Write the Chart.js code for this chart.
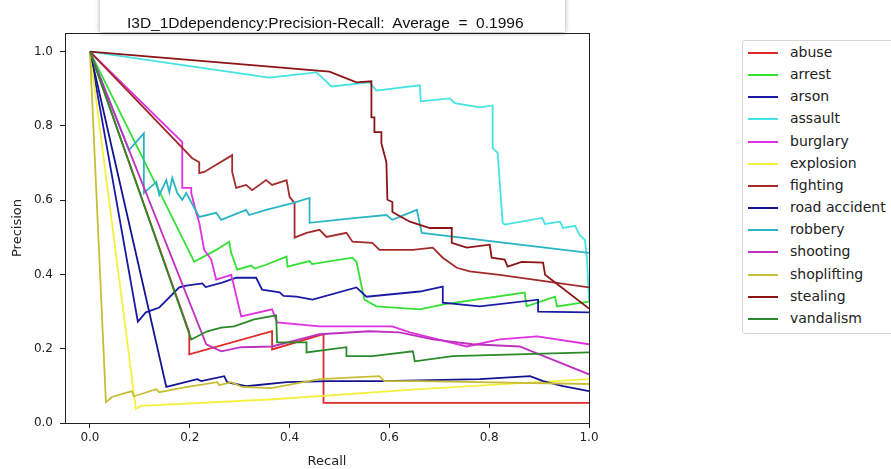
<!DOCTYPE html>
<html>
<head>
<meta charset="utf-8">
<script src="https://cdn.jsdelivr.net/npm/chart.js@4.4.0/dist/chart.umd.min.js"></script>
<style>
  body { margin: 0; background: #fff; }
  #wrap { position: relative; width: 891px; height: 469px; overflow: hidden; }
  #title { position: absolute; left: 100px; top: -8px; width: 465px; height: 40px; background: #fff;
           box-shadow: 0 1px 5px rgba(0,0,0,0.35); font: 15.5px "Liberation Sans", sans-serif; color: #111; white-space: pre; }
  #title span { position: absolute; left: 27px; top: 22px; }
  #legend { position: absolute; left: 742px; top: 40px; width: 170px; height: 292px; border: 1px solid #d6d6d6;
            border-radius: 3px; background: #fff; font: 14px "DejaVu Sans", sans-serif; color: #222; }
  .row { position: absolute; left: 0; height: 17px; }
  .row i { position: absolute; left: 5px; top: 8px; width: 30px; height: 2px; }
  .row span { position: absolute; left: 47px; top: 0; white-space: nowrap; }
</style>
</head>
<body>
<div id="wrap">
  <canvas id="chart" width="891" height="469"></canvas>
  <div id="title"><span>I3D_1Ddependency:Precision-Recall:  Average  =  0.1996</span></div>
  <div id="legend"></div>
</div>
<script>
const categories = ['abuse', 'arrest', 'arson', 'assault', 'burglary', 'explosion', 'fighting',
                    'road accident', 'robbery', 'shooting', 'shoplifting', 'stealing', 'vandalism'];
const lineColors = ['#e02a2a', '#35e035', '#1a1aa5', '#45e3e3', '#e030e0', '#f5f040', '#a52a2a',
                    '#141490', '#2ab5c5', '#bf30c0', '#c8be35', '#8b1515', '#2a8a2a'];
const xTicks = [0, 0.2, 0.4, 0.6, 0.8, 1.0];
const yTicks = [0, 0.2, 0.4, 0.6, 0.8, 1.0];

const abuseRecall = [0, 0.199, 0.199, 0.365, 0.365, 0.468, 0.468, 1.0];
const abusePrecision = [1.0, 0.244, 0.185, 0.247, 0.198, 0.239, 0.054, 0.054];

const arrestRecall = [0, 0.209, 0.253, 0.279, 0.283, 0.295, 0.323, 0.330, 0.353, 0.394, 0.396, 0.440, 0.445, 0.526, 0.534, 0.550, 0.574, 0.661, 0.711, 0.871, 0.875, 0.932, 0.936, 1.0];
const arrestPrecision = [1.0, 0.434, 0.466, 0.488, 0.458, 0.413, 0.424, 0.416, 0.426, 0.448, 0.421, 0.436, 0.428, 0.445, 0.434, 0.332, 0.314, 0.306, 0.320, 0.351, 0.314, 0.340, 0.314, 0.327];

const arsonRecall = [0, 0.096, 0.112, 0.139, 0.179, 0.193, 0.225, 0.232, 0.265, 0.293, 0.333, 0.345, 0.380, 0.388, 0.414, 0.446, 0.534, 0.554, 0.661, 0.707, 0.707, 0.781, 0.898, 0.898, 1.0];
const arsonPrecision = [1.0, 0.273, 0.298, 0.311, 0.365, 0.370, 0.376, 0.366, 0.378, 0.391, 0.391, 0.359, 0.352, 0.342, 0.340, 0.332, 0.365, 0.340, 0.354, 0.367, 0.324, 0.314, 0.332, 0.300, 0.298];

const assaultRecall = [0, 0.359, 0.454, 0.484, 0.560, 0.574, 0.661, 0.663, 0.721, 0.731, 0.781, 0.807, 0.807, 0.817, 0.827, 0.831, 0.906, 0.912, 0.942, 0.948, 0.972, 0.982, 0.992, 0.996, 1.0];
const assaultPrecision = [1.0, 0.930, 0.944, 0.906, 0.917, 0.895, 0.909, 0.866, 0.874, 0.861, 0.850, 0.855, 0.740, 0.727, 0.539, 0.534, 0.552, 0.536, 0.542, 0.525, 0.531, 0.504, 0.493, 0.440, 0.33];

const burglaryRecall = [0, 0.185, 0.185, 0.203, 0.203, 0.213, 0.219, 0.229, 0.243, 0.253, 0.283, 0.289, 0.303, 0.365, 0.375, 0.460, 0.606, 0.641, 0.721, 0.755, 0.821, 0.896, 1.0];
const burglaryPrecision = [1.0, 0.756, 0.633, 0.633, 0.619, 0.566, 0.539, 0.466, 0.440, 0.386, 0.399, 0.367, 0.287, 0.306, 0.271, 0.260, 0.260, 0.244, 0.217, 0.206, 0.225, 0.233, 0.212];

const explosionRecall = [0, 0.092, 0.102, 0.369, 0.661, 1.0];
const explosionPrecision = [1.0, 0.038, 0.046, 0.064, 0.091, 0.118];

const fightingRecall = [0, 0.205, 0.219, 0.219, 0.229, 0.285, 0.285, 0.293, 0.313, 0.325, 0.353, 0.365, 0.394, 0.400, 0.410, 0.410, 0.434, 0.460, 0.474, 0.514, 0.526, 0.566, 0.580, 0.647, 0.687, 0.707, 0.735, 0.761, 0.821, 1.0];
const fightingPrecision = [1.0, 0.713, 0.702, 0.673, 0.676, 0.721, 0.676, 0.633, 0.641, 0.627, 0.654, 0.641, 0.654, 0.609, 0.592, 0.499, 0.512, 0.520, 0.501, 0.512, 0.488, 0.485, 0.466, 0.466, 0.472, 0.445, 0.418, 0.408, 0.399, 0.365];

const roadAccidentRecall = [0, 0.153, 0.215, 0.223, 0.269, 0.275, 0.313, 0.394, 0.480, 0.586, 0.781, 0.882, 0.908, 0.948, 1.0];
const roadAccidentPrecision = [1.0, 0.097, 0.118, 0.113, 0.126, 0.110, 0.099, 0.110, 0.113, 0.113, 0.118, 0.126, 0.113, 0.099, 0.086];

const robberyRecall = [0, 0.078, 0.108, 0.108, 0.133, 0.139, 0.153, 0.159, 0.165, 0.175, 0.185, 0.193, 0.219, 0.253, 0.263, 0.313, 0.319, 0.353, 0.406, 0.440, 0.440, 0.534, 0.594, 0.606, 0.655, 0.665, 1.0];
const robberyPrecision = [1.0, 0.735, 0.780, 0.619, 0.649, 0.614, 0.654, 0.622, 0.660, 0.619, 0.601, 0.619, 0.555, 0.566, 0.547, 0.574, 0.560, 0.574, 0.592, 0.606, 0.539, 0.552, 0.560, 0.547, 0.574, 0.512, 0.458];

const shootingRecall = [0, 0.233, 0.263, 0.303, 0.365, 0.460, 0.560, 0.620, 0.687, 0.767, 0.861, 1.0];
const shootingPrecision = [1.0, 0.212, 0.193, 0.204, 0.206, 0.239, 0.247, 0.244, 0.225, 0.212, 0.206, 0.131];

const shopliftingRecall = [0, 0.032, 0.044, 0.084, 0.088, 0.133, 0.139, 0.195, 0.255, 0.259, 0.283, 0.305, 0.363, 0.460, 0.580, 0.590, 0.660, 1.0];
const shopliftingPrecision = [1.0, 0.056, 0.070, 0.086, 0.072, 0.091, 0.083, 0.097, 0.110, 0.102, 0.110, 0.097, 0.094, 0.118, 0.126, 0.113, 0.113, 0.105];

const stealingRecall = [0, 0.480, 0.534, 0.564, 0.564, 0.570, 0.570, 0.584, 0.584, 0.594, 0.596, 0.606, 0.606, 0.641, 0.681, 0.725, 0.725, 0.755, 0.801, 0.805, 0.831, 0.837, 0.865, 0.908, 0.912, 1.0];
const stealingPrecision = [1.0, 0.946, 0.917, 0.920, 0.823, 0.823, 0.783, 0.783, 0.753, 0.702, 0.601, 0.595, 0.568, 0.542, 0.525, 0.525, 0.485, 0.472, 0.480, 0.445, 0.440, 0.421, 0.434, 0.432, 0.399, 0.308];

const vandalismRecall = [0, 0.203, 0.235, 0.263, 0.289, 0.329, 0.373, 0.375, 0.434, 0.434, 0.514, 0.514, 0.566, 0.647, 0.651, 0.727, 1.0];
const vandalismPrecision = [1.0, 0.225, 0.247, 0.257, 0.260, 0.279, 0.290, 0.217, 0.217, 0.190, 0.204, 0.180, 0.180, 0.193, 0.166, 0.180, 0.190];

const recallSeries = [abuseRecall, arrestRecall, arsonRecall, assaultRecall, burglaryRecall, explosionRecall,
  fightingRecall, roadAccidentRecall, robberyRecall, shootingRecall, shopliftingRecall, stealingRecall, vandalismRecall];
const precisionSeries = [abusePrecision, arrestPrecision, arsonPrecision, assaultPrecision, burglaryPrecision, explosionPrecision,
  fightingPrecision, roadAccidentPrecision, robberyPrecision, shootingPrecision, shopliftingPrecision, stealingPrecision, vandalismPrecision];

// legend box on the right, like the matplotlib one
const legend = document.getElementById('legend');
categories.forEach((name, i) => {
  const row = document.createElement('div');
  row.className = 'row';
  row.style.top = (3 + i * 22.15) + 'px';
  row.innerHTML = `<i style="background:${lineColors[i]}"></i><span>${name}</span>`;
  legend.appendChild(row);
});

// full box around the plot area
const framePlugin = {
  id: 'frame',
  afterDatasetsDraw(chart) {
    const { ctx, chartArea: a } = chart;
    ctx.save();
    ctx.strokeStyle = '#222';
    ctx.lineWidth = 1;
    ctx.strokeRect(a.left + 0.5, a.top + 0.5, a.right - a.left, a.bottom - a.top);
    ctx.restore();
  }
};

const tickFont = { family: 'DejaVu Sans', size: 12 };
const titleFont = { family: 'DejaVu Sans', size: 13 };

new Chart(document.getElementById('chart'), {
  type: 'line',
  data: {
    datasets: categories.map((name, i) => ({
      label: name,
      data: recallSeries[i].map((r, k) => ({ x: r, y: precisionSeries[i][k] })),
      borderColor: lineColors[i],
      borderWidth: 1.8,
      pointRadius: 0,
      tension: 0,
      fill: false,
      order: categories.length - i
    }))
  },
  options: {
    responsive: false,
    animation: false,
    layout: { padding: { left: 0, top: 33, right: 302, bottom: 0 } },
    plugins: { legend: { display: false }, tooltip: { enabled: false } },
    scales: {
      x: {
        type: 'linear',
        min: -0.05,
        max: 1.0,
        afterBuildTicks: s => { s.ticks = xTicks.map(v => ({ value: v })); },
        afterFit: s => { s.height = 46; },
        ticks: { callback: v => v.toFixed(1), font: tickFont, color: '#222', padding: 3, maxRotation: 0 },
        grid: { drawOnChartArea: false, tickLength: 5, color: '#222' },
        border: { display: false },
        title: { display: true, text: 'Recall', font: titleFont, color: '#222', padding: { top: 2, bottom: 0 } }
      },
      y: {
        type: 'linear',
        min: 0,
        max: 1.05,
        afterBuildTicks: s => { s.ticks = yTicks.map(v => ({ value: v })); },
        afterFit: s => { s.width = 65; },
        ticks: { callback: v => v.toFixed(1), font: tickFont, color: '#222', padding: 7 },
        grid: { drawOnChartArea: false, tickLength: 5, color: '#222' },
        border: { display: false },
        title: { display: true, text: 'Precision', font: titleFont, color: '#222', padding: { top: 10, bottom: 0 } }
      }
    }
  },
  plugins: [framePlugin]
});
</script>
</body>
</html>
